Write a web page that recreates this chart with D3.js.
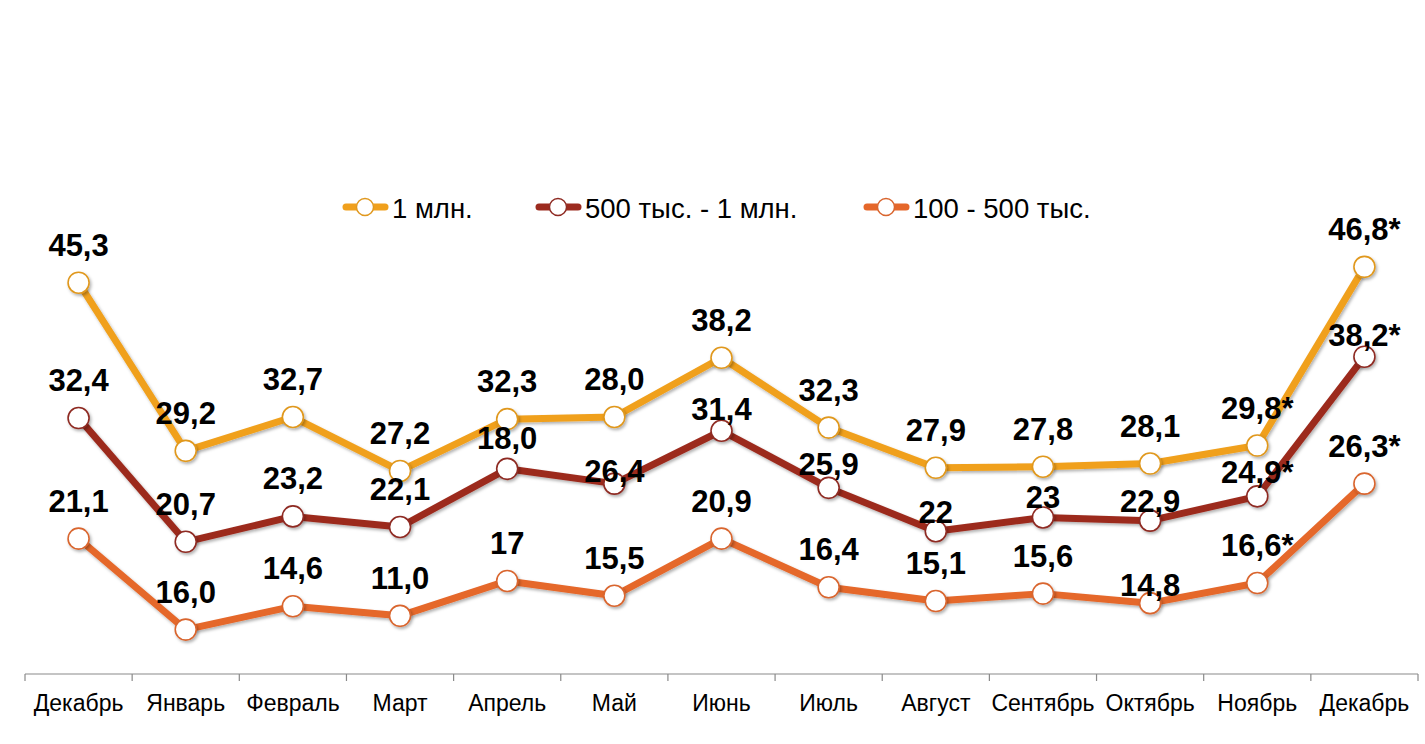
<!DOCTYPE html>
<html><head><meta charset="utf-8">
<script src="https://cdn.jsdelivr.net/npm/d3@7/dist/d3.min.js"></script>
<style>
html,body{margin:0;padding:0;background:#fff;}
svg{display:block;font-family:Arial,"Liberation Sans",sans-serif;}
</style></head>
<body>
<svg id="chart" width="1425" height="744"></svg>
<script>
const categories = ["Декабрь","Январь","Февраль","Март","Апрель","Май","Июнь","Июль","Август","Сентябрь","Октябрь","Ноябрь","Декабрь"];
const seriesNames = ["1 млн.","500 тыс. - 1 млн.","100 - 500 тыс."];
const valuesMln = [45.3,29.4,32.6,27.5,32.4,32.6,38.2,31.6,27.8,27.9,28.2,29.9,46.8];
const values500k = [32.5,20.8,23.2,22.2,27.7,26.3,31.3,25.9,21.8,23.1,22.8,25.1,38.3];
const values100k = [21.1,12.5,14.7,13.8,17.1,15.7,21.1,16.5,15.2,15.9,15.0,16.9,26.3];
const labelsMln = ["45,3","29,2","32,7","27,2","32,3","28,0","38,2","32,3","27,9","27,8","28,1","29,8*","46,8*"];
const labels500k = ["32,4","20,7","23,2","22,1","18,0","26,4","31,4","25,9","22","23","22,9","24,9*","38,2*"];
const labels100k = ["21,1","16,0","14,6","11,0","17","15,5","20,9","16,4","15,1","15,6","14,8","16,6*","26,3*"];

// layout tweaks (label nudges in px, not data)
const labelNudge = [
  [0,0,0,0,0,0,0,0,0,0,0,0,0],
  [0,0,0,0,7,25,16,14,19,18,18,14,16],
  [0,0,0,0,0,0,0,0,0,0,20,0,0]
];
const colors = ["#F0A01C","#9C2B1F","#E5672A"];
const strokeCols = ["#E0981E","#8E2A22","#D9652E"];

const series = [
  {name: seriesNames[0], values: valuesMln, labels: labelsMln},
  {name: seriesNames[1], values: values500k, labels: labels500k},
  {name: seriesNames[2], values: values100k, labels: labels100k}
];

const svg = d3.select("#chart");
const x = d3.scaleBand().domain(d3.range(categories.length)).range([25,1418]).padding(0);
const y = d3.scaleLinear().domain([8.3,50]).range([674,233]);
const cx = i => x(i) + x.bandwidth()/2;

const defs = svg.append("defs");
const f = defs.append("filter").attr("id","sh").attr("x","-50%").attr("y","-50%").attr("width","200%").attr("height","200%");
f.append("feDropShadow").attr("dx",1.5).attr("dy",2).attr("stdDeviation",1.5).attr("flood-color","#000").attr("flood-opacity",0.3);

// axis
const axisG = svg.append("g").attr("transform","translate(0,674)");
const ax = d3.axisBottom(x).tickSize(0).tickFormat(i => categories[i]);
axisG.call(ax);
axisG.select(".domain").attr("stroke","#8a8a8a").attr("stroke-width",1.2).attr("d","M25,0H1418");
axisG.selectAll(".tick text").attr("y",37).attr("dy",0).attr("font-size",23).attr("fill","#000")
  .attr("font-family","Arial, 'Liberation Sans', sans-serif");
const edges = d3.range(categories.length+1).map(i => i < categories.length ? x(i) : x.range()[1]);
axisG.selectAll("line.edge").data(edges).enter().append("line").attr("class","edge")
  .attr("x1",d=>d).attr("x2",d=>d).attr("y1",0).attr("y2",7).attr("stroke","#8a8a8a").attr("stroke-width",1.2);

// lines
const line = d3.line().x((d,i)=>cx(i)).y(d=>y(d));
series.forEach((s,k)=>{
  svg.append("path").datum(s.values).attr("d",line).attr("fill","none")
    .attr("stroke",colors[k]).attr("stroke-width",7).attr("stroke-linejoin","round").attr("filter","url(#sh)");
});
series.forEach((s,k)=>{
  svg.append("g").selectAll("circle").data(s.values).enter().append("circle")
    .attr("cx",(d,i)=>cx(i)).attr("cy",d=>y(d)).attr("r",10.5)
    .attr("fill","#fff").attr("stroke",strokeCols[k]).attr("stroke-width",1.6).attr("filter","url(#sh)");
});
series.forEach((s,k)=>{
  svg.append("g").selectAll("text").data(s.values).enter().append("text")
    .attr("x",(d,i)=>cx(i)).attr("y",(d,i)=>y(d)-27+labelNudge[k][i])
    .attr("text-anchor","middle").attr("font-size",31).attr("font-weight","bold").attr("fill","#000")
    .text((d,i)=>s.labels[i]);
});

// legend
const legX = [343,536,864];
const lg = svg.append("g");
series.forEach((s,k)=>{
  const g = lg.append("g").attr("transform",`translate(${legX[k]},207)`);
  g.append("line").attr("x1",3).attr("x2",42).attr("y1",0).attr("y2",0)
    .attr("stroke",colors[k]).attr("stroke-width",7).attr("stroke-linecap","round");
  g.append("circle").attr("cx",22).attr("cy",0).attr("r",8.5).attr("fill","#fff").attr("stroke",strokeCols[k]).attr("stroke-width",1.4);
  g.append("text").attr("x",49).attr("y",11).attr("font-size",27.5).attr("fill","#000").text(s.name);
});
</script>
</body></html>
